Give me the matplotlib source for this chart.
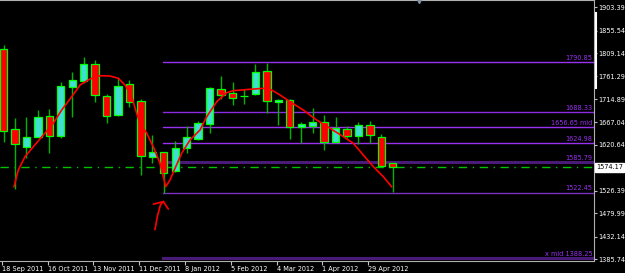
import numpy as np
import matplotlib
matplotlib.use("Agg")
from matplotlib import pyplot as plt
from matplotlib import font_manager
from matplotlib.lines import Line2D

# weekly OHLC, one row per candle (18 Sep 2011 .. 6 May 2012)
opens = [1817.1, 1653.3, 1616.3, 1636.9, 1680.6, 1639.5, 1740.2, 1751.9, 1786.3, 1721.7,
         1682.1, 1745.1, 1710.2, 1596.4, 1605.4, 1567.6, 1613.6, 1632.1, 1663.6, 1734.9,
         1726.7, 1720.5, 1724.6, 1772.5, 1708.8, 1712.9, 1656.8, 1660.0, 1667.1, 1627.2,
         1653.3, 1639.5, 1660.9, 1636.9, 1582.8]
highs = [1825.9, 1676.5, 1677.4, 1692.3, 1693.8, 1750.5, 1771.1, 1801.9, 1795.1, 1725.2,
         1758.7, 1754.0, 1714.3, 1641.0, 1606.0, 1629.3, 1659.5, 1669.7, 1739.6, 1762.2,
         1750.5, 1734.9, 1786.3, 1789.5, 1715.6, 1714.9, 1668.3, 1697.1, 1682.1, 1678.6,
         1659.0, 1667.1, 1669.7, 1642.4, 1582.8]
lows = [1627.2, 1530.0, 1593.1, 1636.0, 1603.4, 1634.2, 1678.6, 1747.8, 1709.4, 1665.0,
        1680.0, 1699.1, 1558.8, 1582.8, 1522.4, 1565.0, 1603.4, 1630.7, 1645.7, 1714.3,
        1702.0, 1704.1, 1724.0, 1685.6, 1661.5, 1632.1, 1625.1, 1644.5, 1610.1, 1627.0,
        1634.2, 1622.5, 1625.1, 1575.8, 1524.5]
closes = [1649.2, 1621.8, 1636.2, 1678.6, 1638.9, 1742.3, 1753.4, 1786.9, 1722.5, 1679.4,
          1742.3, 1708.8, 1597.8, 1605.4, 1563.5, 1614.9, 1637.5, 1665.0, 1736.9, 1723.2,
          1717.6, 1721.5, 1771.1, 1710.8, 1712.9, 1656.8, 1663.0, 1667.1, 1627.2, 1656.0,
          1639.5, 1660.9, 1641.0, 1577.9, 1574.2]

date_labels = ["18 Sep 2011", "16 Oct 2011", "13 Nov 2011", "11 Dec 2011", "8 Jan 2012",
               "5 Feb 2012", "4 Mar 2012", "1 Apr 2012", "29 Apr 2012"]
date_idx = [0, 4, 8, 12, 16, 20, 24, 28, 32]

price_ticks = [1903.39, 1855.54, 1809.14, 1761.29, 1714.89, 1667.04, 1620.64,
               1526.39, 1479.99, 1432.14, 1385.74]
current_price = 1574.17

# horizontal levels
levels = [1790.85, 1688.33, 1656.65, 1624.98, 1585.79, 1522.45, 1388.25]
level_labels = ["1790.85", "1688.33", "1656.65 mid", "1624.98", "1585.79", "1522.45", "x mid 1388.25"]
level_colors = ["#9a30f0", "#8a2be2", "#9a30f0", "#9a30f0", "#4a1a78", "#7a30c0", "#4a1a78"]
level_widths = [1.0, 1.0, 1.0, 1.0, 2.2, 1.0, 2.2]
level_start = 13.9

# hand-drawn red curve and arrow (candle index, price)
curve_x = [0.92, 1.29, 1.88, 2.60, 3.48, 4.35, 5.08, 5.96, 6.68, 7.55, 8.43, 9.30, 10.03,
           10.61, 11.20, 11.63, 11.92, 12.51, 13.08, 13.67, 14.17, 14.54, 14.98, 15.56,
           16.29, 17.16, 17.75, 18.62, 19.49, 20.07, 21.53, 22.69, 23.42, 24.15, 25.02,
           26.18, 27.35, 28.52, 29.68, 30.55, 31.42, 32.30, 33.17, 33.90]
curve_y = [1534.7, 1569.1, 1596.4, 1616.9, 1640.9, 1665.0, 1692.3, 1719.7, 1743.7, 1756.1,
           1762.8, 1762.2, 1757.5, 1743.7, 1719.7, 1685.6, 1665.0, 1644.5, 1616.9, 1582.8,
           1534.7, 1548.5, 1572.5, 1603.4, 1630.7, 1651.2, 1678.6, 1709.4, 1727.9, 1732.0,
           1734.9, 1736.9, 1733.4, 1723.2, 1709.4, 1692.3, 1671.8, 1654.7, 1637.5, 1623.9,
           1599.9, 1575.8, 1555.3, 1534.7]
arrow_x = [13.23, 13.45, 13.70, 13.96]
arrow_y = [1447.0, 1475.0, 1497.0, 1504.0]
head_x = [13.10, 13.96, 14.39]
head_y = [1499.0, 1504.0, 1489.0]

# pick a narrow font if one is installed (chart uses a small Tahoma-like face)
prefer = ["LiberationSansNarrow-Regular", "DejaVuSansCondensed.ttf", "OpenSans_Condensed-Regular",
          "OpenSansCondensed", "Roboto_Condensed-Regular", "RobotoCondensed-Regular",
          "NotoSans-Condensed.ttf", "NotoSans_Condensed-Regular"]
files = [f.fname for f in font_manager.fontManager.ttflist]
font_file = None
for key in prefer:
    hits = [p for p in files if key in p.split("/")[-1]]
    if hits:
        font_file = sorted(hits, key=len)[0]
        break

fig = plt.figure(figsize=(6.25, 2.73), dpi=100, facecolor="black")
renderer = fig.canvas.get_renderer()


def make_fp(size):
    if font_file:
        return font_manager.FontProperties(fname=font_file, size=size)
    return font_manager.FontProperties(family="DejaVu Sans", size=size)


# size the font so that a price label is about 27 px wide
probe = fig.text(0, 0, "1903.39", fontproperties=make_fp(10))
w10 = probe.get_window_extent(renderer).width
probe.remove()
fs = min(6.2, 10 * 27.0 / w10)
fp = make_fp(fs)

ax = fig.add_axes([0, 12 / 273, 594 / 625, 261 / 273])
ax.set_facecolor("black")

x = np.arange(len(opens))
o = np.array(opens)
c = np.array(closes)
up = c >= o

ax.vlines(x, lows, highs, color="#00b400", lw=1.0, zorder=2)
bottoms = np.minimum(o, c)
heights = np.maximum(np.abs(c - o), 0.8)
ax.bar(x[up], heights[up], bottom=bottoms[up], width=0.64, color="#40e0d0",
       edgecolor="#00ff00", linewidth=0.9, zorder=3)
ax.bar(x[~up], heights[~up], bottom=bottoms[~up], width=0.64, color="#ff0000",
       edgecolor="#00ff00", linewidth=0.9, zorder=3)

for val, lab, col, lw in zip(levels, level_labels, level_colors, level_widths):
    ax.plot([level_start, 60], [val, val], color=col, lw=lw, zorder=1)
    ax.text(51.45, val + 2.5, lab, color="#9a30f0", fontproperties=fp,
            ha="right", va="bottom", zorder=4)

ax.axhline(current_price, color="#00c000", lw=1.0, ls=(0, (6, 4, 1, 4)), zorder=1)

ax.plot(curve_x, curve_y, color="#ff0000", lw=1.2, zorder=5)
ax.plot(arrow_x, arrow_y, color="#ff0000", lw=1.2, zorder=5)
ax.plot(head_x, head_y, color="#ff0000", lw=1.2, zorder=5)

ax.set_xlim(-0.306, 51.57)
ax.set_ylim(1382.0, 1918.4)

ax.yaxis.tick_right()
ax.set_yticks(price_ticks)
ax.set_yticklabels(["%.2f" % v for v in price_ticks], fontproperties=fp)
ax.tick_params(axis="y", colors="#c0c0c0", labelcolor="white", length=2, width=0.8, pad=1.0)
ax.set_xticks(np.array(date_idx) - 0.15)
ax.set_xticklabels(date_labels, ha="left", fontproperties=fp)
ax.tick_params(axis="x", colors="#c0c0c0", labelcolor="white", length=3, width=0.8, pad=0.5)

for s in ["top", "bottom", "right"]:
    ax.spines[s].set_color("#b0b0b0")
    ax.spines[s].set_linewidth(0.8)
ax.spines["left"].set_visible(False)

ax.text(1.004, (current_price - 1382.0) / (1918.4 - 1382.0), "%.2f" % current_price,
        transform=ax.transAxes, fontproperties=fp, color="black", ha="left", va="center",
        bbox=dict(boxstyle="square,pad=0.15", fc="white", ec="white"), zorder=6)

# scroll marker on the price scale and the chart-shift marker at the top
fig.add_artist(Line2D([595.5 / 625, 595.5 / 625], [1 - 13 / 273, 1 - 88 / 273],
                      color="white", lw=1.5))
ax.plot([36.3], [1916.0], marker="v", ms=3, color="#8090a0", zorder=6, clip_on=False)

fig.savefig("out.png", dpi=100, facecolor="black")
